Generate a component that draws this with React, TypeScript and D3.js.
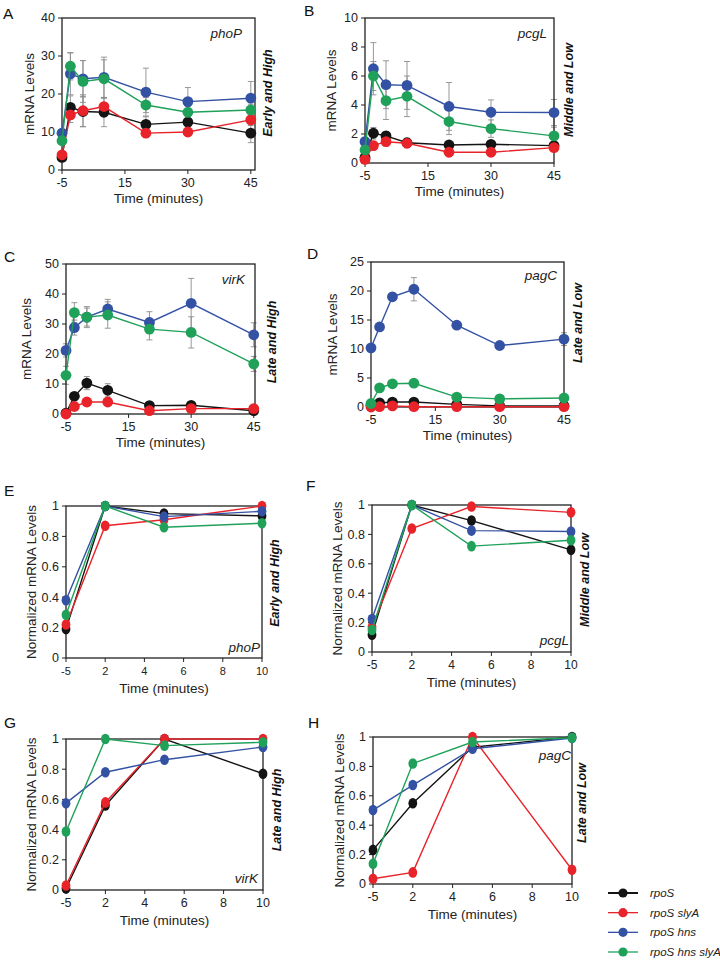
import React from "react";
import * as d3 from "d3";

// ---------- data ----------
const SERIES_NAMES = ["rpoS", "rpoS slyA", "rpoS hns", "rpoS hns slyA"];
const SERIES_COLORS = ["#141414", "#e8232a", "#3452a3", "#1fa15a"];

// first sample (-5 min) is drawn at the axis origin
const TIME_FULL = [0, 2, 5, 10, 20, 30, 45];
const TIME_NORM = [0, 2, 5, 10];
const XTICKS_FULL = [0, 15, 30, 45];
const XLABELS_FULL = ["-5", "15", "30", "45"];
const XTICKS_NORM = [0, 2, 4, 6, 8, 10];
const XLABELS_NORM = ["-5", "2", "4", "6", "8", "10"];
const YTICKS_NORM = [0, 0.2, 0.4, 0.6, 0.8, 1];

// A: phoP
const phoP_rpoS = [3.3, 16.5, 15.4, 15.2, 12.0, 12.6, 9.7];
const phoP_slyA = [4.0, 14.5, 15.6, 16.7, 9.7, 10.0, 13.2];
const phoP_hns = [9.7, 25.3, 24.0, 24.4, 20.5, 18.0, 18.9];
const phoP_hnsSlyA = [7.7, 27.3, 23.3, 24.0, 17.1, 15.2, 15.8];
const phoP_rpoS_err = [0.5, 3.0, 4.0, 3.8, 2.0, 1.5, 2.5];
const phoP_slyA_err = [0.5, 2.0, 4.2, 2.2, 1.0, 1.0, 1.5];
const phoP_hns_err = [1.0, 5.5, 4.8, 5.3, 6.3, 3.7, 4.4];
const phoP_hnsSlyA_err = [1.0, 3.6, 5.5, 5.0, 2.0, 1.5, 1.5];

// B: pcgL
const pcgL_rpoS = [0.4, 2.05, 1.87, 1.4, 1.24, 1.29, 1.2];
const pcgL_slyA = [0.25, 1.2, 1.47, 1.36, 0.74, 0.74, 1.06];
const pcgL_hns = [1.47, 6.5, 5.4, 5.35, 3.9, 3.5, 3.48];
const pcgL_hnsSlyA = [0.9, 6.0, 4.3, 4.6, 2.86, 2.37, 1.87];
const pcgL_rpoS_err = [0.2, 0.4, 0.3, 0.3, 0.2, 0.2, 0.2];
const pcgL_slyA_err = [0.1, 0.3, 0.3, 0.3, 0.2, 0.2, 0.2];
const pcgL_hns_err = [0.3, 1.8, 1.65, 1.65, 1.65, 0.85, 0.9];
const pcgL_hnsSlyA_err = [0.2, 1.0, 1.3, 1.4, 0.9, 0.6, 0.6];

// C: virK
const virK_rpoS = [0.3, 5.9, 10.3, 7.9, 2.8, 2.9, 1.1];
const virK_slyA = [0.0, 2.5, 4.0, 4.0, 1.1, 1.8, 1.8];
const virK_hns = [21.2, 28.8, 32.3, 35.0, 30.5, 36.9, 26.4];
const virK_hnsSlyA = [12.9, 33.8, 32.3, 33.0, 28.3, 27.2, 16.7];
const virK_rpoS_err = [0.3, 1.2, 2.2, 2.2, 0.5, 0.5, 0.3];
const virK_slyA_err = [0.1, 0.8, 0.6, 0.6, 0.3, 0.3, 0.3];
const virK_hns_err = [2.2, 2.5, 3.0, 3.2, 3.6, 8.3, 4.0];
const virK_hnsSlyA_err = [3.0, 3.3, 3.5, 4.4, 3.6, 5.2, 2.5];

// D: pagC
const pagC_rpoS = [0.3, 0.7, 0.85, 0.85, 0.45, 0.2, 0.2];
const pagC_slyA = [0.0, 0.05, 0.2, 0.05, 0.05, 0.05, 0.05];
const pagC_hns = [10.2, 13.8, 19.0, 20.3, 14.1, 10.6, 11.7];
const pagC_hnsSlyA = [0.6, 3.3, 4.0, 4.1, 1.7, 1.4, 1.55];
const pagC_rpoS_err = [0.1, 0.2, 0.2, 0.2, 0.1, 0.1, 0.1];
const pagC_slyA_err = [0.05, 0.05, 0.1, 0.05, 0.05, 0.05, 0.05];
const pagC_hns_err = [0.3, 0.4, 0.5, 2.0, 0.5, 0.3, 1.1];
const pagC_hnsSlyA_err = [0.2, 0.3, 0.3, 0.3, 0.2, 0.2, 0.2];

// E-H: normalized
const nPhoP_rpoS = [0.19, 1.0, 0.95, 0.935];
const nPhoP_slyA = [0.22, 0.87, 0.91, 1.0];
const nPhoP_hns = [0.38, 1.0, 0.93, 0.965];
const nPhoP_hnsSlyA = [0.285, 1.0, 0.86, 0.887];

const nPcgL_rpoS = [0.118, 1.0, 0.894, 0.695];
const nPcgL_slyA = [0.17, 0.84, 0.99, 0.95];
const nPcgL_hns = [0.224, 1.0, 0.826, 0.82];
const nPcgL_hnsSlyA = [0.15, 1.0, 0.72, 0.76];

const nVirK_rpoS = [0.01, 0.56, 1.0, 0.77];
const nVirK_slyA = [0.03, 0.58, 1.0, 1.0];
const nVirK_hns = [0.575, 0.78, 0.863, 0.947];
const nVirK_hnsSlyA = [0.387, 1.0, 0.956, 0.978];

const nPagC_rpoS = [0.232, 0.549, 0.93, 1.0];
const nPagC_slyA = [0.036, 0.079, 1.0, 0.097];
const nPagC_hns = [0.503, 0.673, 0.92, 0.993];
const nPagC_hnsSlyA = [0.138, 0.82, 0.966, 0.995];

// ---------- layout ----------
const FONT = "'Liberation Sans', Arial, Helvetica, sans-serif";

type Cfg = {
  letter: string; letterX: number; letterY: number;
  left: number; right: number; top: number; bottom: number;
  xMax: number; yMax: number; yTicks: number[];
  times: number[]; xTicks: number[]; xLabels: string[];
  values: number[][]; errors?: number[][];
  gene: string; geneX: number; geneY: number;
  side: string; sideX: number; sideY: number;
  yTitle: string; yTitleX: number;
  norm: boolean; xTickFont: number;
};

const fullTicks = { times: TIME_FULL, xTicks: XTICKS_FULL, xLabels: XLABELS_FULL, norm: false, xTickFont: 12.5 };
const normTicks = { times: TIME_NORM, xTicks: XTICKS_NORM, xLabels: XLABELS_NORM, norm: true, yTicks: YTICKS_NORM, yMax: 1, xMax: 10 };

const PANELS: Cfg[] = [
  {
    ...fullTicks, letter: "A", letterX: 3, letterY: 19,
    left: 62, right: 255, top: 18, bottom: 170, xMax: 46, yMax: 40, yTicks: [0, 10, 20, 30, 40],
    values: [phoP_rpoS, phoP_slyA, phoP_hns, phoP_hnsSlyA],
    errors: [phoP_rpoS_err, phoP_slyA_err, phoP_hns_err, phoP_hnsSlyA_err],
    gene: "phoP", geneX: 242, geneY: 38, side: "Early and High", sideX: 272, sideY: 93,
    yTitle: "mRNA Levels", yTitleX: 34,
  },
  {
    ...fullTicks, letter: "B", letterX: 304, letterY: 16,
    left: 365, right: 554, top: 18, bottom: 163, xMax: 45, yMax: 10, yTicks: [0, 2, 4, 6, 8, 10],
    values: [pcgL_rpoS, pcgL_slyA, pcgL_hns, pcgL_hnsSlyA],
    errors: [pcgL_rpoS_err, pcgL_slyA_err, pcgL_hns_err, pcgL_hnsSlyA_err],
    gene: "pcgL", geneX: 547, geneY: 38, side: "Middle and Low", sideX: 573, sideY: 90,
    yTitle: "mRNA Levels", yTitleX: 336,
  },
  {
    ...fullTicks, letter: "C", letterX: 4, letterY: 262,
    left: 66, right: 255, top: 264, bottom: 414, xMax: 45.3, yMax: 50, yTicks: [0, 10, 20, 30, 40, 50],
    values: [virK_rpoS, virK_slyA, virK_hns, virK_hnsSlyA],
    errors: [virK_rpoS_err, virK_slyA_err, virK_hns_err, virK_hnsSlyA_err],
    gene: "virK", geneX: 245, geneY: 284, side: "Late and High", sideX: 276, sideY: 342,
    yTitle: "mRNA Levels", yTitleX: 31,
  },
  {
    ...fullTicks, letter: "D", letterX: 307, letterY: 259,
    left: 371, right: 564, top: 262, bottom: 407, xMax: 45, yMax: 25, yTicks: [0, 5, 10, 15, 20, 25],
    values: [pagC_rpoS, pagC_slyA, pagC_hns, pagC_hnsSlyA],
    errors: [pagC_rpoS_err, pagC_slyA_err, pagC_hns_err, pagC_hnsSlyA_err],
    gene: "pagC", geneX: 557, geneY: 280, side: "Late and Low", sideX: 582, sideY: 323,
    yTitle: "mRNA Levels", yTitleX: 337,
  },
  {
    ...normTicks, xTickFont: 11, letter: "E", letterX: 4, letterY: 496,
    left: 66, right: 262, top: 506, bottom: 658,
    values: [nPhoP_rpoS, nPhoP_slyA, nPhoP_hns, nPhoP_hnsSlyA],
    gene: "phoP", geneX: 260, geneY: 652, side: "Early and High", sideX: 279, sideY: 583,
    yTitle: "Normalized mRNA Levels", yTitleX: 36,
  },
  {
    ...normTicks, xTickFont: 12, letter: "F", letterX: 306, letterY: 491,
    left: 372, right: 571, top: 505, bottom: 652,
    values: [nPcgL_rpoS, nPcgL_slyA, nPcgL_hns, nPcgL_hnsSlyA],
    gene: "pcgL", geneX: 569, geneY: 645, side: "Middle and Low", sideX: 589, sideY: 580,
    yTitle: "Normalized mRNA Levels", yTitleX: 342,
  },
  {
    ...normTicks, xTickFont: 12.5, letter: "G", letterX: 4, letterY: 728,
    left: 66, right: 263, top: 739, bottom: 890,
    values: [nVirK_rpoS, nVirK_slyA, nVirK_hns, nVirK_hnsSlyA],
    gene: "virK", geneX: 258, geneY: 883, side: "Late and High", sideX: 281, sideY: 810,
    yTitle: "Normalized mRNA Levels", yTitleX: 36,
  },
  {
    ...normTicks, xTickFont: 12.5, letter: "H", letterX: 308, letterY: 728,
    left: 373, right: 572, top: 737, bottom: 884,
    values: [nPagC_rpoS, nPagC_slyA, nPagC_hns, nPagC_hnsSlyA],
    gene: "pagC", geneX: 571, geneY: 760, side: "Late and Low", sideX: 586, sideY: 803,
    yTitle: "Normalized mRNA Levels", yTitleX: 344,
  },
];

function Panel({ c }: { c: Cfg }) {
  const x = d3.scaleLinear().domain([0, c.xMax]).range([c.left, c.right]);
  const y = d3.scaleLinear().domain([0, c.yMax]).range([c.bottom, c.top]);
  const line = d3
    .line<number>()
    .x((_, i) => x(c.times[i]))
    .y((d) => y(d));
  const yFmt = (v: number) => (c.norm ? d3.format("~g")(v) : String(v));
  const midY = (c.top + c.bottom) / 2;
  const midX = (c.left + c.right) / 2;
  return (
    <g>
      <text x={c.letterX} y={c.letterY} fontSize={15.5} fontFamily={FONT} fill="#111">
        {c.letter}
      </text>
      {/* y ticks */}
      {c.yTicks.map((t) => (
        <g key={"y" + t}>
          <line x1={c.left - 4} x2={c.left} y1={y(t)} y2={y(t)} stroke="#222" strokeWidth={1} />
          <text x={c.left - 7} y={y(t)} dy="0.35em" textAnchor="end" fontSize={12.5} fontFamily={FONT} fill="#222">
            {yFmt(t)}
          </text>
        </g>
      ))}
      {/* x ticks */}
      {c.xTicks.map((t, i) => (
        <g key={"x" + t}>
          <line x1={x(t)} x2={x(t)} y1={c.bottom} y2={c.bottom + 4} stroke="#222" strokeWidth={1} />
          <text x={x(t)} y={c.bottom + 17} textAnchor="middle" fontSize={c.xTickFont} fontFamily={FONT} fill="#222">
            {c.xLabels[i]}
          </text>
        </g>
      ))}
      <text x={midX} y={c.bottom + (c.norm ? 35 : 33)} textAnchor="middle" fontSize={13.5} fontFamily={FONT} fill="#222">
        Time (minutes)
      </text>
      <text
        transform={`translate(${c.yTitleX},${midY}) rotate(-90)`}
        textAnchor="middle"
        fontSize={13.5}
        fontFamily={FONT}
        fill="#222"
      >
        {c.yTitle}
      </text>
      {/* error bars */}
      {c.errors &&
        c.values.map((vals, si) =>
          vals.map((v, i) => {
            const e = c.errors![si][i];
            const cx = x(c.times[i]);
            const y1 = y(Math.min(c.yMax, v + e));
            const y2 = y(Math.max(0, v - e));
            return (
              <g key={`e${si}-${i}`} stroke="#8c8c8c" strokeWidth={0.9}>
                <line x1={cx} x2={cx} y1={y1} y2={y2} />
                <line x1={cx - 3} x2={cx + 3} y1={y1} y2={y1} />
                <line x1={cx - 3} x2={cx + 3} y1={y2} y2={y2} />
              </g>
            );
          })
        )}
      {/* frame */}
      <rect
        x={c.left}
        y={c.top}
        width={c.right - c.left}
        height={c.bottom - c.top}
        fill="none"
        stroke="#222"
        strokeWidth={1.3}
      />
      {/* series */}
      {c.values.map((vals, si) => (
        <g key={"s" + si}>
          <path d={line(vals) || ""} fill="none" stroke={SERIES_COLORS[si]} strokeWidth={1.4} />
          {vals.map((v, i) =>
            c.norm ? (
              <ellipse key={i} cx={x(c.times[i])} cy={y(v)} rx={4.4} ry={5.3} fill={SERIES_COLORS[si]} />
            ) : (
              <circle key={i} cx={x(c.times[i])} cy={y(v)} r={5.4} fill={SERIES_COLORS[si]} />
            )
          )}
        </g>
      ))}
      <text x={c.geneX} y={c.geneY} textAnchor="end" fontSize={13.5} fontStyle="italic" fontFamily={FONT} fill="#222">
        {c.gene}
      </text>
      <text
        transform={`translate(${c.sideX},${c.sideY}) rotate(-90)`}
        textAnchor="middle"
        fontSize={12.5}
        fontWeight="bold"
        fontStyle="italic"
        fontFamily={FONT}
        fill="#111"
      >
        {c.side}
      </text>
    </g>
  );
}

function Legend() {
  const ly = d3.scalePoint<string>().domain(SERIES_NAMES).range([893, 952]);
  return (
    <g>
      {SERIES_NAMES.map((n, i) => (
        <g key={n}>
          <line x1={608} x2={638} y1={ly(n)} y2={ly(n)} stroke={SERIES_COLORS[i]} strokeWidth={i === 0 ? 2 : 1.3} />
          <circle cx={623} cy={ly(n)} r={4.6} fill={SERIES_COLORS[i]} />
          <text x={650} y={ly(n)} dy="0.35em" fontSize={11.5} fontStyle="italic" fontFamily={FONT} fill="#222">
            {n}
          </text>
        </g>
      ))}
    </g>
  );
}

export default function App() {
  return (
    <svg
      width={720}
      height={967}
      viewBox="0 0 720 967"
      style={{ position: "absolute", left: 0, top: 0, background: "#fff" }}
    >
      <rect width={720} height={967} fill="#fff" />
      {PANELS.map((c) => (
        <Panel key={c.letter} c={c} />
      ))}
      <Legend />
    </svg>
  );
}
